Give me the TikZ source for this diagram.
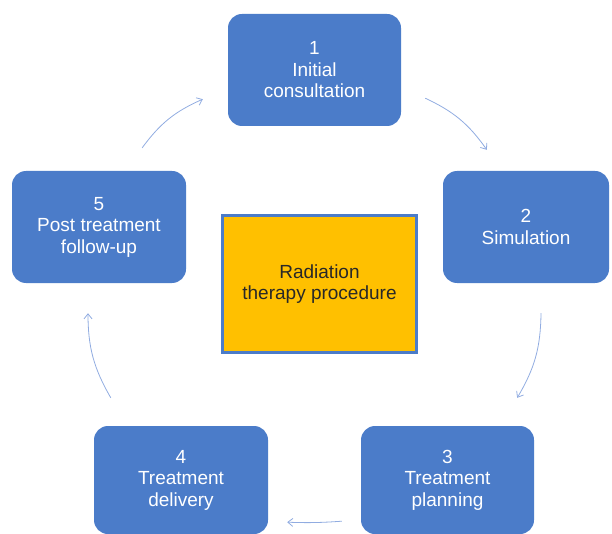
\documentclass[tikz,border=0pt]{standalone}
\usepackage{fontspec}
\setmainfont{Liberation Sans}
\usetikzlibrary{arrows.meta}

\begin{document}
\begin{tikzpicture}[x=1pt,y=-1pt,
    stage/.style={
      fill=sblue,
      draw=none,
      rounded corners=14pt,
      text=white,
      align=center,
      font=\fontsize{19}{21.5}\selectfont
    },
    core/.style={
      fill=syellow,
      draw=sblue,
      line width=3pt,
      text=stext,
      align=center,
      font=\fontsize{19}{21.5}\selectfont
    },
    flow/.style={
      -{Straight Barb[length=5pt,width=8pt]},
      line width=0.8pt,
      lblue
    }]

\definecolor{sblue}{RGB}{75,124,201}
\definecolor{syellow}{RGB}{255,192,0}
\definecolor{stext}{RGB}{40,40,40}
\definecolor{lblue}{RGB}{145,172,225}

\useasboundingbox (0,0) rectangle (612,534);

\node[stage, minimum width=173pt, minimum height=112pt] (cons) at (314.5,70) {1\\Initial\\consultation};
\node[stage, minimum width=166pt, minimum height=112pt] (sim) at (526,227) {2\\Simulation};
\node[stage, minimum width=173pt, minimum height=108pt] (plan) at (447.5,480) {3\\Treatment\\planning};
\node[stage, minimum width=174pt, minimum height=108pt] (deliv) at (181,480) {4\\Treatment\\delivery};
\node[stage, minimum width=174pt, minimum height=112pt] (follow) at (99,227) {5\\Post treatment\\follow-up};

\node[core, minimum width=194pt, minimum height=137pt] (rt) at (319.5,284) {Radiation\\therapy procedure};

\draw[flow] ([xshift=24pt,yshift=28pt]cons.south east) to[bend left=15] ([xshift=44pt,yshift=21pt]sim.north west);
\draw[flow] ([xshift=15pt,yshift=-30pt]sim.south) to[bend left=15] ([xshift=-17pt,yshift=28pt]plan.north east);
\draw[flow] ([xshift=-19pt,yshift=13pt]plan.south west) to[bend left=3] ([xshift=19pt,yshift=12pt]deliv.south east);
\draw[flow] ([xshift=17pt,yshift=28pt]deliv.north west) to[bend left=15] ([xshift=-11pt,yshift=-30pt]follow.south);
\draw[flow] ([xshift=-44pt,yshift=23pt]follow.north east) to[bend left=15] ([xshift=-25pt,yshift=27pt]cons.south west);

\end{tikzpicture}
\end{document}
